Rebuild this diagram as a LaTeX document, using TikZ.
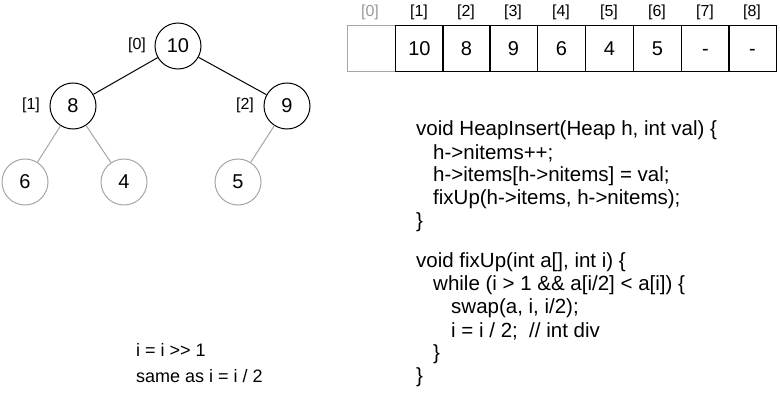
\documentclass[tikz,border=0pt]{standalone}
\usepackage{fontspec}
\setmainfont[Ligatures=TeXOff]{Liberation Sans}
\begin{document}
\begin{tikzpicture}[x=1pt,y=-1pt,
  tn/.style={circle,draw=black,line width=1pt,minimum size=46pt,inner sep=0pt,font=\fontsize{20}{24}\selectfont},
  tg/.style={tn,draw=black!35},
  idx/.style={font=\fontsize{16}{18}\selectfont},
  cell/.style={draw=black,line width=1pt,minimum width=48pt,minimum height=46pt,inner sep=0pt,anchor=north west,font=\fontsize{20}{24}\selectfont,execute at begin node={\vphantom{0}}},
  code/.style={anchor=west,inner sep=0pt,font=\fontsize{20.5}{24}\selectfont},
  note/.style={anchor=west,inner sep=0pt,font=\fontsize{18}{21}\selectfont}]
\useasboundingbox (0,0) rectangle (780,420);
% tree
\node[tn] (n10) at (178,46) {10};
\node[tn] (n8) at (73,106) {8};
\node[tn] (n9) at (287,106) {9};
\node[tg] (n6) at (25,182) {6};
\node[tg] (n4) at (124,182) {4};
\node[tg] (n5) at (238,182) {5};
\node[idx] (l0) at (137,45) {[0]};
\node[idx] (l1) at (31,105) {[1]};
\node[idx] (l2) at (245,105) {[2]};
\draw[line width=1pt] (n10) -- (n8);
\draw[line width=1pt] (n10) -- (n9);
\draw[line width=1pt,black!35] (n8) -- (n6);
\draw[line width=1pt,black!35] (n8) -- (n4);
\draw[line width=1pt,black!35] (n9) -- (n5);
% array
\node[cell,draw=black!35] (c0) at (347,25) {};
\node[cell] (c1) at (395,25) {10};
\node[cell] (c2) at (442,25) {8};
\node[cell] (c3) at (489,25) {9};
\node[cell] (c4) at (537,25) {6};
\node[cell] (c5) at (585,25) {4};
\node[cell] (c6) at (633,25) {5};
\node[cell] (c7) at (681,25) {-};
\node[cell] (c8) at (728,25) {-};
\node[idx,black!40] (i0) at (370,12) {[0]};
\node[idx] (i1) at (419,12) {[1]};
\node[idx] (i2) at (466,12) {[2]};
\node[idx] (i3) at (513,12) {[3]};
\node[idx] (i4) at (561,12) {[4]};
\node[idx] (i5) at (609,12) {[5]};
\node[idx] (i6) at (657,12) {[6]};
\node[idx] (i7) at (705,12) {[7]};
\node[idx] (i8) at (752,12) {[8]};
% code
\node[code] (k1) at (416,130) {void HeapInsert(Heap h, int val) \{};
\node[code] (k2) at (433,153) {h->nitems++;};
\node[code] (k3) at (433,176) {h->items[h->nitems] = val;};
\node[code] (k4) at (433,199) {fixUp(h->items, h->nitems);};
\node[code] (k5) at (416,222) {\}};
\node[code] (k6) at (416,262) {void fixUp(int a[], int i) \{};
\node[code] (k7) at (433,285) {while (i > 1 \&\& a[i/2] < a[i]) \{};
\node[code] (k8) at (451,308) {swap(a, i, i/2);};
\node[code] (k9) at (451,331) {i = i / 2;\ \ // int div};
\node[code] (k10) at (433,354) {\}};
\node[code] (k11) at (416,377) {\}};
% note
\node[note] (m1) at (136,350) {i = i >> 1};
\node[note] (m2) at (136,376) {same as i = i / 2};
\end{tikzpicture}
\end{document}
